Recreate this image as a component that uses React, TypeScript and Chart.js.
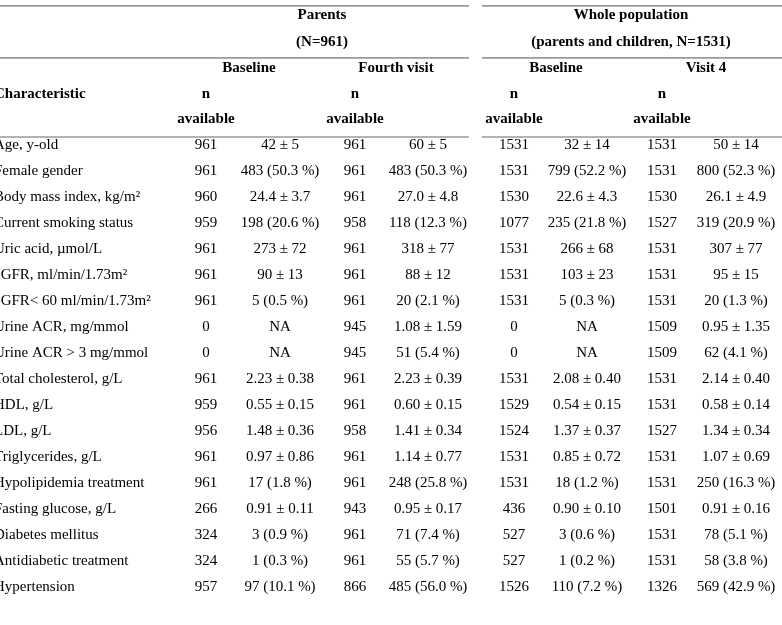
import React, { useEffect, useRef } from "react";
import { Chart, registerables } from "chart.js";

Chart.register(...registerables);

// ---- Table data ----
const characteristics = [
  "Age, y-old",
  "Female gender",
  "Body mass index, kg/m²",
  "Current smoking status",
  "Uric acid, µmol/L",
  "eGFR, ml/min/1.73m²",
  "eGFR< 60 ml/min/1.73m²",
  "Urine ACR, mg/mmol",
  "Urine ACR > 3 mg/mmol",
  "Total cholesterol, g/L",
  "HDL, g/L",
  "LDL, g/L",
  "Triglycerides, g/L",
  "Hypolipidemia treatment",
  "Fasting glucose, g/L",
  "Diabetes mellitus",
  "Antidiabetic treatment",
  "Hypertension",
];

const parentsBaselineN = ["961", "961", "960", "959", "961", "961", "961", "0", "0", "961", "959", "956", "961", "961", "266", "324", "324", "957"];
const parentsBaselineVal = ["42 ± 5", "483 (50.3 %)", "24.4 ± 3.7", "198 (20.6 %)", "273 ± 72", "90 ± 13", "5 (0.5 %)", "NA", "NA", "2.23 ± 0.38", "0.55 ± 0.15", "1.48 ± 0.36", "0.97 ± 0.86", "17 (1.8 %)", "0.91 ± 0.11", "3 (0.9 %)", "1 (0.3 %)", "97 (10.1 %)"];
const parentsFourthN = ["961", "961", "961", "958", "961", "961", "961", "945", "945", "961", "961", "958", "961", "961", "943", "961", "961", "866"];
const parentsFourthVal = ["60 ± 5", "483 (50.3 %)", "27.0 ± 4.8", "118 (12.3 %)", "318 ± 77", "88 ± 12", "20 (2.1 %)", "1.08 ± 1.59", "51 (5.4 %)", "2.23 ± 0.39", "0.60 ± 0.15", "1.41 ± 0.34", "1.14 ± 0.77", "248 (25.8 %)", "0.95 ± 0.17", "71 (7.4 %)", "55 (5.7 %)", "485 (56.0 %)"];
const wholeBaselineN = ["1531", "1531", "1530", "1077", "1531", "1531", "1531", "0", "0", "1531", "1529", "1524", "1531", "1531", "436", "527", "527", "1526"];
const wholeBaselineVal = ["32 ± 14", "799 (52.2 %)", "22.6 ± 4.3", "235 (21.8 %)", "266 ± 68", "103 ± 23", "5 (0.3 %)", "NA", "NA", "2.08 ± 0.40", "0.54 ± 0.15", "1.37 ± 0.37", "0.85 ± 0.72", "18 (1.2 %)", "0.90 ± 0.10", "3 (0.6 %)", "1 (0.2 %)", "110 (7.2 %)"];
const wholeVisit4N = ["1531", "1531", "1530", "1527", "1531", "1531", "1531", "1509", "1509", "1531", "1531", "1527", "1531", "1531", "1501", "1531", "1531", "1326"];
const wholeVisit4Val = ["50 ± 14", "800 (52.3 %)", "26.1 ± 4.9", "319 (20.9 %)", "307 ± 77", "95 ± 15", "20 (1.3 %)", "0.95 ± 1.35", "62 (4.1 %)", "2.14 ± 0.40", "0.58 ± 0.14", "1.34 ± 0.34", "1.07 ± 0.69", "250 (16.3 %)", "0.91 ± 0.16", "78 (5.1 %)", "58 (3.8 %)", "569 (42.9 %)"];

const groupTitles = ["Parents", "Whole population"];
const groupSubtitles = ["(N=961)", "(parents and children, N=1531)"];
const visitTitles = ["Baseline", "Fourth visit", "Baseline", "Visit 4"];
const firstColumnTitle = "Characteristic";
const nTitleLines = ["n", "available"];

// ---- Layout (x in pixel units of the linear x scale, y in row units) ----
const COL_X = [-6, 206, 280, 355, 428, 514, 587, 662, 736];
const GROUP_X = [322, 631];
const VISIT_X = [249, 396, 556, 706];
const N_COL_X = [206, 355, 514, 662];
const HEADER_Y = { group: -5.0, sub: -3.94, visit: -2.96, n: -1.96, avail: -1.0 };
const RULES = [
  { y: -5.35, segs: [[0, 469], [482, 782]] },
  { y: -3.35, segs: [[0, 469], [482, 782]] },
  { y: -0.31, segs: [[0, 469], [482, 782]] },
];

const FONT = "'Liberation Serif', 'Times New Roman', serif";

const columns = [
  characteristics,
  parentsBaselineN,
  parentsBaselineVal,
  parentsFourthN,
  parentsFourthVal,
  wholeBaselineN,
  wholeBaselineVal,
  wholeVisit4N,
  wholeVisit4Val,
];

const tablePlugin = {
  id: "tableText",
  afterDatasetsDraw(chart: any) {
    const ctx = chart.ctx;
    const xs = chart.scales.x;
    const ys = chart.scales.y;
    ctx.save();
    // rules
    ctx.strokeStyle = "#9a9a9a";
    ctx.lineWidth = 1.6;
    RULES.forEach((r) => {
      const py = ys.getPixelForValue(r.y);
      r.segs.forEach(([a, b]) => {
        ctx.beginPath();
        ctx.moveTo(xs.getPixelForValue(a), py);
        ctx.lineTo(xs.getPixelForValue(b), py);
        ctx.stroke();
      });
    });
    ctx.fillStyle = "#000";
    ctx.textBaseline = "middle";
    // headers
    ctx.font = `bold 15px ${FONT}`;
    ctx.textAlign = "center";
    GROUP_X.forEach((x, i) => {
      ctx.fillText(groupTitles[i], xs.getPixelForValue(x), ys.getPixelForValue(HEADER_Y.group));
      ctx.fillText(groupSubtitles[i], xs.getPixelForValue(x), ys.getPixelForValue(HEADER_Y.sub));
    });
    VISIT_X.forEach((x, i) => {
      ctx.fillText(visitTitles[i], xs.getPixelForValue(x), ys.getPixelForValue(HEADER_Y.visit));
    });
    N_COL_X.forEach((x) => {
      ctx.fillText(nTitleLines[0], xs.getPixelForValue(x), ys.getPixelForValue(HEADER_Y.n));
      ctx.fillText(nTitleLines[1], xs.getPixelForValue(x), ys.getPixelForValue(HEADER_Y.avail));
    });
    ctx.textAlign = "left";
    ctx.fillText(firstColumnTitle, xs.getPixelForValue(COL_X[0]), ys.getPixelForValue(HEADER_Y.n));
    // body cells from dataset points
    ctx.font = `15px ${FONT}`;
    chart.data.datasets.forEach((ds: any, di: number) => {
      const meta = chart.getDatasetMeta(di);
      ctx.textAlign = di === 0 ? "left" : "center";
      meta.data.forEach((pt: any, i: number) => {
        ctx.fillText(ds.texts[i], pt.x, pt.y);
      });
    });
    ctx.restore();
  },
};

export default function App() {
  const ref = useRef<HTMLCanvasElement | null>(null);
  useEffect(() => {
    document.body.style.margin = "0";
    const canvas = ref.current;
    if (!canvas) return;
    const datasets = columns.map((col, ci) => ({
      label: `col${ci}`,
      texts: col,
      data: col.map((_, ri) => ({ x: COL_X[ci], y: ri })),
      pointRadius: 0,
      showLine: false,
    }));
    const H = 625;
    const top = 145;
    const step = 26;
    const chart = new Chart(canvas, {
      type: "scatter",
      data: { datasets: datasets as any },
      options: {
        animation: false,
        responsive: true,
        maintainAspectRatio: false,
        layout: { padding: 0 },
        plugins: { legend: { display: false }, tooltip: { enabled: false } },
        events: [],
        scales: {
          x: { type: "linear", display: false, min: 0, max: 782 },
          y: { type: "linear", display: false, reverse: true, min: -top / step, max: (H - top) / step },
        },
      },
      plugins: [tablePlugin],
    });
    return () => chart.destroy();
  }, []);
  return (
    <div style={{ position: "relative", width: 782, height: 625, background: "#fff" }}>
      <canvas ref={ref} />
    </div>
  );
}
